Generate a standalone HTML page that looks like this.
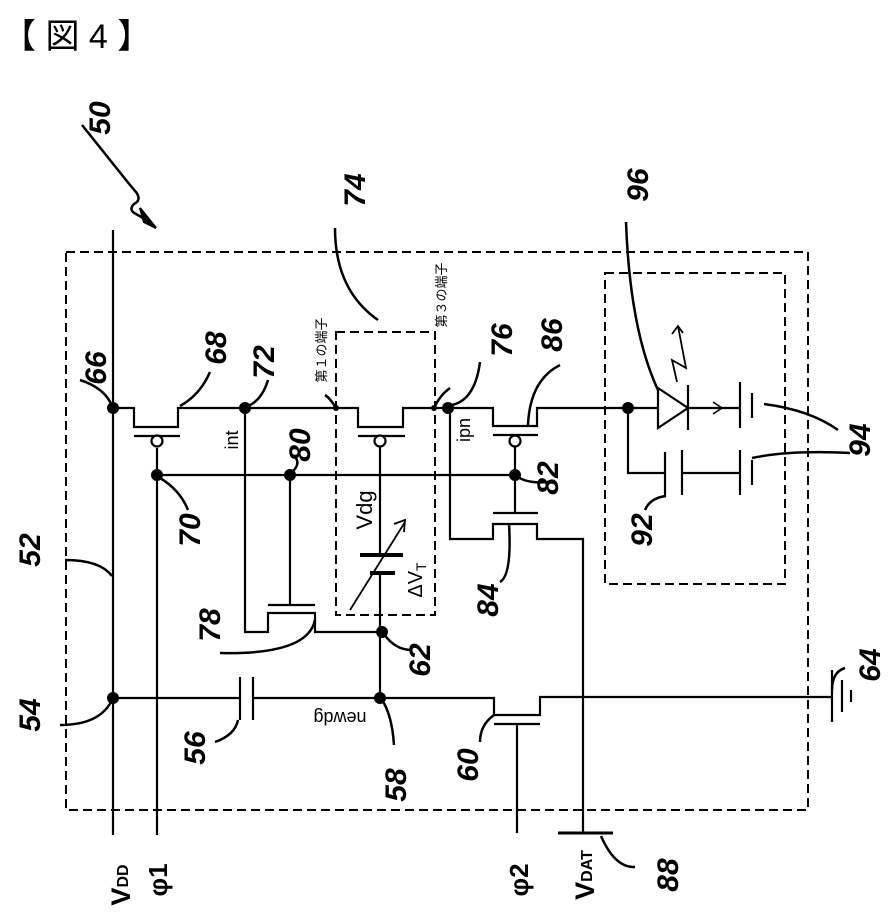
<!DOCTYPE html>
<html><head><meta charset="utf-8"><style>
html,body{margin:0;padding:0;background:#fff;}
svg{display:block;}
text{font-family:"Liberation Sans","Noto Sans CJK JP",sans-serif;fill:#000;}
.h{font-family:"Liberation Sans",sans-serif;font-weight:bold;font-style:italic;font-size:30px;}
</style></head><body>
<svg width="889" height="923" viewBox="0 0 889 923" xmlns="http://www.w3.org/2000/svg">
<text x="2" y="48" font-size="34" style="font-family:'Liberation Sans','Noto Sans CJK JP',sans-serif">【 図 4 】</text>
<g fill="none" stroke="#000" stroke-width="2.2">
<rect x="66" y="252" width="742" height="558" stroke-dasharray="9,5" stroke-width="2"/>
<rect x="336" y="332" width="99" height="283" stroke-dasharray="9,5" stroke-width="2"/>
<rect x="605" y="273" width="180" height="311" stroke-dasharray="9,5" stroke-width="2"/>
<line x1="113" y1="230" x2="113" y2="835"/>
<line x1="157" y1="448" x2="157" y2="835"/>
<polyline points="113,408 134,408 134,427 178,427 178,408 358,408 358,427 403,427 403,408 493,408 493,426 537,426 537,408 658,408"/>
<line x1="134" y1="436" x2="180" y2="436"/>
<circle cx="157" cy="441" r="5.5" fill="#fff"/>
<line x1="358" y1="436" x2="405" y2="436"/>
<circle cx="380" cy="441" r="5.5" fill="#fff"/>
<line x1="493" y1="435" x2="538" y2="435"/>
<circle cx="515" cy="441" r="5.5" fill="#fff"/>
<line x1="157" y1="475" x2="515" y2="475"/>
<line x1="515" y1="447" x2="515" y2="513"/>
<line x1="493" y1="513" x2="538" y2="513"/>
<polyline points="450,408 450,539 493,539 493,524 537,524 537,539 583,539 583,833"/>
<line x1="558" y1="833" x2="613" y2="833" stroke-width="3"/>
<polyline points="245,408 245,632 268,632 268,613 315,613 315,632 382,632"/>
<line x1="268" y1="605" x2="315" y2="605"/>
<line x1="290" y1="475" x2="290" y2="605"/>
<line x1="380" y1="447" x2="380" y2="555"/>
<line x1="360" y1="555" x2="403" y2="555" stroke-width="4"/>
<line x1="370" y1="573" x2="395" y2="573" stroke-width="4"/>
<line x1="380" y1="573" x2="380" y2="698"/>
<line x1="350" y1="610" x2="405" y2="522" stroke-width="1.8"/>
<polyline points="394,524 405,520 404,532" stroke-width="1.8"/>
<polyline points="113,698 240,698"/>
<line x1="240" y1="677" x2="240" y2="720"/>
<line x1="253" y1="677" x2="253" y2="720"/>
<polyline points="253,698 494,698 494,715 540,715 540,697 832,697"/>
<line x1="494" y1="724" x2="540" y2="724"/>
<line x1="517" y1="724" x2="517" y2="833"/>
<line x1="832" y1="670" x2="832" y2="722"/>
<line x1="842" y1="680" x2="842" y2="712"/>
<line x1="851" y1="690" x2="851" y2="702"/>
<polygon points="658,388 658,428 688,408"/>
<line x1="688" y1="385" x2="688" y2="430"/>
<line x1="688" y1="408" x2="740" y2="408"/>
<polyline points="713,402 722,408 713,414" stroke-width="1.6"/>
<line x1="740" y1="382" x2="740" y2="428"/>
<line x1="752" y1="393" x2="752" y2="418"/>
<polyline points="628,408 628,473 665,473"/>
<line x1="665" y1="452" x2="665" y2="495"/>
<line x1="682" y1="450" x2="682" y2="495"/>
<line x1="682" y1="473" x2="740" y2="473"/>
<line x1="740" y1="450" x2="740" y2="495"/>
<line x1="752" y1="460" x2="752" y2="485"/>
<polyline points="677,382 672,360 686,368 678,326" stroke-width="1.8"/>
<polyline points="672,334 678,326 683,333" stroke-width="1.8"/>
<g stroke-width="2.5">
<path d="M80,380 Q105,388 112,406"/>
<path d="M180,406 Q200,395 210,372"/>
<path d="M248,406 Q262,400 268,380"/>
<path d="M160,478 Q180,490 188,510"/>
<path d="M292,472 Q300,465 296,458"/>
<path d="M336,408 Q330,398 325,395"/>
<path d="M434,408 Q440,395 450,388"/>
<path d="M452,405 Q475,400 480,362"/>
<path d="M528,425 Q530,380 560,365"/>
<path d="M518,477 Q530,485 555,481"/>
<path d="M509,524 Q512,575 500,582"/>
<path d="M666,496 Q650,498 645,510"/>
<path d="M764,404 Q810,410 838,430"/>
<path d="M752,458 Q790,450 850,453"/>
<path d="M626,222 Q630,330 658,390"/>
<path d="M335,228 Q335,290 378,320"/>
<path d="M65,560 Q100,560 112,576"/>
<path d="M60,725 Q100,725 112,700"/>
<path d="M215,742 Q235,735 238,720"/>
<path d="M382,700 Q392,715 394,745"/>
<path d="M480,742 Q480,725 494,715"/>
<path d="M384,634 Q395,650 412,650"/>
<path d="M315,620 Q308,655 220,653"/>
<path d="M601,836 Q615,868 635,867"/>
<path d="M832,690 Q832,672 845,668"/>
<path d="M82,125 L130,185 L136,192 Q142,200 134,204 Q128,210 136,214 L150,222"/>
</g>
<polygon points="140,208 156,228 144,222" fill="#000"/>
</g>
<g fill="#000">
<circle cx="113" cy="408" r="6"/><circle cx="245" cy="408" r="6"/><circle cx="448" cy="408" r="6"/>
<circle cx="336" cy="408" r="3"/><circle cx="434" cy="408" r="3"/>
<circle cx="628" cy="408" r="6"/><circle cx="157" cy="475" r="6"/><circle cx="290" cy="475" r="6"/>
<circle cx="515" cy="475" r="6"/><circle cx="382" cy="632" r="6"/><circle cx="380" cy="698" r="6"/>
<circle cx="113" cy="698" r="6"/>
</g>
<g font-size="18">
<text transform="translate(238,440) rotate(-90)" text-anchor="middle">int</text>
<text transform="translate(470,430) rotate(-90)" text-anchor="middle">ipn</text>
<text transform="translate(372,510) rotate(-90)" text-anchor="middle" font-size="22">Vdg</text>
<text transform="translate(422,580) rotate(-90)" text-anchor="middle" font-size="20">ΔV<tspan font-size="14" dy="4">T</tspan></text>
<text transform="translate(340,712) rotate(180)" text-anchor="middle">newdg</text>
<text transform="translate(326,350) rotate(-90)" text-anchor="middle" font-size="13">第１の端子</text>
<text transform="translate(446,295) rotate(-90)" text-anchor="middle" font-size="13">第３の端子</text>
<text transform="translate(130,885) rotate(-90)" text-anchor="middle" font-size="27" font-weight="bold">V<tspan font-size="16" dy="-2">DD</tspan></text>
<text transform="translate(167,880) rotate(-90)" text-anchor="middle" font-size="26" font-weight="bold">φ1</text>
<text transform="translate(528,880) rotate(-90)" text-anchor="middle" font-size="26" font-weight="bold">φ2</text>
<text transform="translate(594,875) rotate(-90)" text-anchor="middle" font-size="27" font-weight="bold">V<tspan font-size="16" dy="-2">DAT</tspan></text>
</g>
<g class="h">
<text class="h" transform="translate(110,118) rotate(-90)" text-anchor="middle">50</text>
<text class="h" transform="translate(365,190) rotate(-90)" text-anchor="middle">74</text>
<text class="h" transform="translate(648,185) rotate(-90)" text-anchor="middle">96</text>
<text class="h" transform="translate(106,368) rotate(-90)" text-anchor="middle">66</text>
<text class="h" transform="translate(226,348) rotate(-90)" text-anchor="middle">68</text>
<text class="h" transform="translate(274,362) rotate(-90)" text-anchor="middle">72</text>
<text class="h" transform="translate(200,530) rotate(-90)" text-anchor="middle">70</text>
<text class="h" transform="translate(310,445) rotate(-90)" text-anchor="middle">80</text>
<text class="h" transform="translate(512,340) rotate(-90)" text-anchor="middle">76</text>
<text class="h" transform="translate(562,335) rotate(-90)" text-anchor="middle">86</text>
<text class="h" transform="translate(558,478) rotate(-90)" text-anchor="middle">82</text>
<text class="h" transform="translate(498,600) rotate(-90)" text-anchor="middle">84</text>
<text class="h" transform="translate(652,530) rotate(-90)" text-anchor="middle">92</text>
<text class="h" transform="translate(870,440) rotate(-90)" text-anchor="middle">94</text>
<text class="h" transform="translate(40,550) rotate(-90)" text-anchor="middle">52</text>
<text class="h" transform="translate(40,715) rotate(-90)" text-anchor="middle">54</text>
<text class="h" transform="translate(205,748) rotate(-90)" text-anchor="middle">56</text>
<text class="h" transform="translate(406,785) rotate(-90)" text-anchor="middle">58</text>
<text class="h" transform="translate(478,765) rotate(-90)" text-anchor="middle">60</text>
<text class="h" transform="translate(430,660) rotate(-90)" text-anchor="middle">62</text>
<text class="h" transform="translate(880,665) rotate(-90)" text-anchor="middle">64</text>
<text class="h" transform="translate(220,625) rotate(-90)" text-anchor="middle">78</text>
<text class="h" transform="translate(678,875) rotate(-90)" text-anchor="middle">88</text>
</g>
</svg>
</body></html>
